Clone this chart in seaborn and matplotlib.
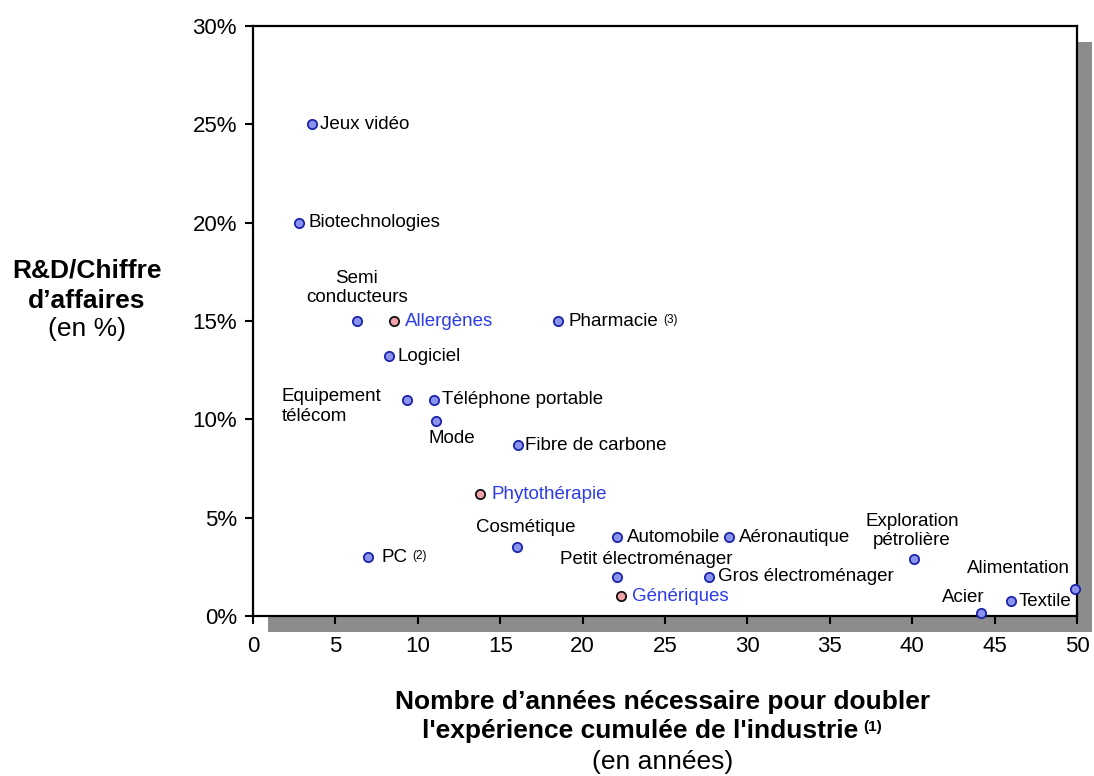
import matplotlib
matplotlib.use("Agg")
import matplotlib.pyplot as plt
from matplotlib.patches import Rectangle
from matplotlib.ticker import FuncFormatter
import seaborn as sns
import pandas as pd

sns.set_theme(style="white")
plt.rcParams["font.family"] = ["Liberation Sans", "DejaVu Sans"]
plt.rcParams["text.color"] = "black"
plt.rcParams["axes.labelcolor"] = "black"

# Industries: years to double cumulated experience vs R&D / revenue (%)
industries = ["Jeux vidéo", "Biotechnologies", "Semi\nconducteurs", "Pharmacie", "Logiciel",
              "Equipement\ntélécom", "Téléphone portable", "Mode", "Fibre de carbone",
              "Cosmétique", "PC", "Automobile", "Aéronautique", "Petit électroménager",
              "Gros électroménager", "Exploration\npétrolière", "Acier", "Textile", "Alimentation"]
industry_years = [3.6, 2.8, 6.3, 18.5, 8.25, 9.35, 11.0, 11.1, 16.1,
                  16.0, 7.0, 22.1, 28.9, 22.1, 27.7, 40.1, 44.2, 46.0, 49.9]
industry_rd = [25.0, 20.0, 15.0, 15.0, 13.2, 11.0, 11.0, 9.9, 8.7,
               3.5, 3.0, 4.0, 4.0, 2.0, 2.0, 2.9, 0.15, 0.75, 1.35]

# Phytotherapy-related segments
segments = ["Allergènes", "Phytothérapie", "Génériques"]
segment_years = [8.55, 13.8, 22.3]
segment_rd = [15.0, 6.2, 1.0]

# Label placement (offset in pixels, alignment)
industry_label_pos = {
    "Jeux vidéo": (8, 0, "left"), "Biotechnologies": (9, 0, "left"),
    "Semi\nconducteurs": (0, 33, "center"), "Pharmacie": (11, 0, "left"),
    "Logiciel": (9, 0, "left"), "Equipement\ntélécom": (-26, -7, "right"),
    "Téléphone portable": (8, 0, "left"), "Mode": (16, -17, "center"),
    "Fibre de carbone": (7, -1, "left"), "Cosmétique": (9, 20, "center"),
    "PC": (13, 0, "left"), "Automobile": (10, 0, "left"), "Aéronautique": (10, 0, "left"),
    "Petit électroménager": (29, 17, "center"), "Gros électroménager": (9, 0, "left"),
    "Exploration\npétrolière": (-2, 28, "center"), "Acier": (-18, 16, "center"),
    "Textile": (8, 0, "left"), "Alimentation": (-5, 21, "right"),
}
footnotes = {"Pharmacie": "(3)", "PC": "(2)"}

W, H, DPI = 1094, 776, 100
fig = plt.figure(figsize=(W / DPI, H / DPI), dpi=DPI)
fig.patch.set_facecolor("white")

# Axes frame in pixel coordinates
x0, x1, y0, y1 = 253, 1077, 26, 616
ax = fig.add_axes([x0 / W, 1 - y1 / H, (x1 - x0) / W, (y1 - y0) / H])
ax.set_zorder(2)
ax.set_facecolor("white")

# Drop shadow behind the plot frame
shadow = Rectangle(((x0 + 15) / W, 1 - (y1 + 16) / H), (x1 - x0) / W, (y1 - y0) / H,
                   transform=fig.transFigure, facecolor="#8c8c8c", edgecolor="none", zorder=0)
fig.patches.append(shadow)

df_ind = pd.DataFrame({"nom": industries, "annees": industry_years, "rd": industry_rd})
df_seg = pd.DataFrame({"nom": segments, "annees": segment_years, "rd": segment_rd})

sns.scatterplot(data=df_ind, x="annees", y="rd", ax=ax, s=45, color="#8a93ee",
                edgecolor="#1c24a8", linewidth=1.3, zorder=3, clip_on=False)
sns.scatterplot(data=df_seg, x="annees", y="rd", ax=ax, s=45, color="#f2a3a8",
                edgecolor="#111111", linewidth=1.3, zorder=3, clip_on=False)

ax.set_xlim(0, 50)
ax.set_ylim(0, 30)

txt_size = 13.5
for name, xv, yv in zip(industries, industry_years, industry_rd):
    dx, dy, ha = industry_label_pos[name]
    t = ax.annotate(name, (xv, yv), xytext=(dx, dy), textcoords="offset pixels",
                    ha=ha, va="center", ma="center" if ha == "center" else "left",
                    fontsize=txt_size, color="black", zorder=4, annotation_clip=False)
    if name in footnotes:
        ax.annotate(footnotes[name], xy=(1, 1), xycoords=t, xytext=(5, -1),
                    textcoords="offset pixels", ha="left", va="top",
                    fontsize=8.5, color="black", zorder=4)

for name, xv, yv in zip(segments, segment_years, segment_rd):
    ax.annotate(name, (xv, yv), xytext=(11, 0), textcoords="offset pixels",
                ha="left", va="center", fontsize=txt_size, color="#2b3ce8", zorder=4)

ax.set_xticks(range(0, 51, 5))
ax.set_yticks(range(0, 31, 5))
ax.yaxis.set_major_formatter(FuncFormatter(lambda v, p: f"{v:.0f}%"))
ax.tick_params(axis="both", direction="out", length=5.5, width=1.5, color="black",
               labelsize=16, labelcolor="black", bottom=True, left=True)
ax.tick_params(axis="x", pad=9)
ax.tick_params(axis="y", pad=6)
ax.set_xlabel("")
ax.set_ylabel("")
for sp in ax.spines.values():
    sp.set_visible(True)
    sp.set_color("black")
    sp.set_linewidth(1.6)

# Vertical axis title
fig.text(87 / W, 1 - 271 / H, "R&D/Chiffre", ha="center", va="center",
         fontsize=19, fontweight="bold")
fig.text(87 / W, 1 - 301 / H, "d’affaires", ha="center", va="center",
         fontsize=19, fontweight="bold")
fig.text(87 / W, 1 - 329 / H, "(en %)", ha="center", va="center", fontsize=19)

# Horizontal axis title
fig.text(663 / W, 1 - 702 / H, "Nombre d’années nécessaire pour doubler",
         ha="center", va="center", fontsize=19, fontweight="bold")
line2 = fig.text(640 / W, 1 - 731 / H, "l'expérience cumulée de l'industrie",
                 ha="center", va="center", fontsize=19, fontweight="bold")
ax.annotate("(1)", xy=(1, 1), xycoords=line2, xytext=(5, -1), textcoords="offset pixels",
            ha="left", va="top", fontsize=11, fontweight="bold", annotation_clip=False)
fig.text(663 / W, 1 - 762 / H, "(en années)", ha="center", va="center", fontsize=19)

fig.savefig("out.png", dpi=DPI, facecolor="white")
